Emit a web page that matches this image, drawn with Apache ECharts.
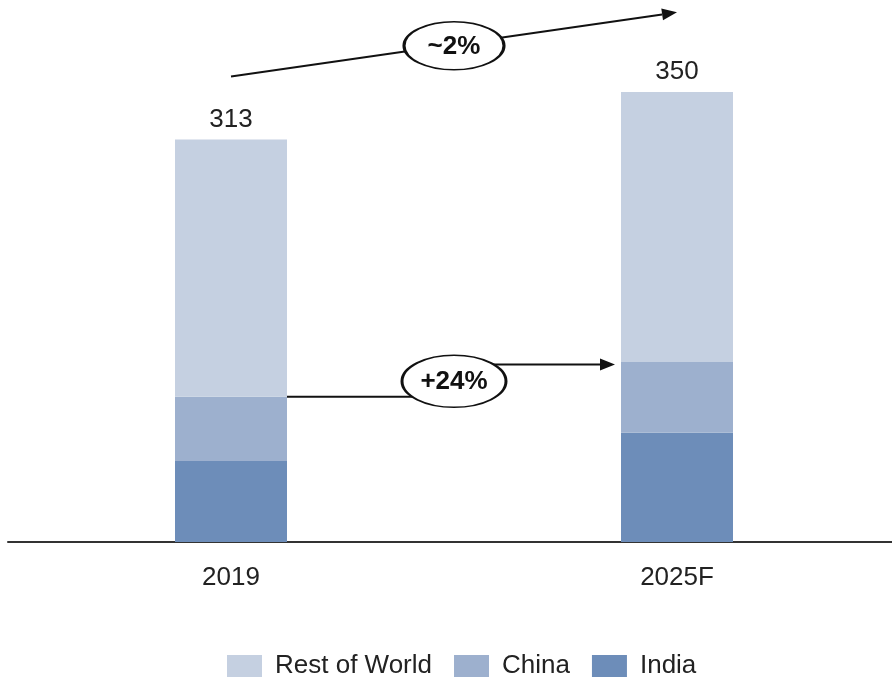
<!DOCTYPE html>
<html>
<head>
<meta charset="utf-8">
<style>
  html, body { margin: 0; padding: 0; background: #ffffff; }
  #chart { width: 892px; height: 682px; }
</style>
<script src="https://cdn.jsdelivr.net/npm/echarts@6/dist/echarts.min.js"></script>
</head>
<body>
<div id="chart"></div>
<script>
// Stacked volumes by region, 2019 vs 2025 forecast
const categories = ['2019', '2025F'];
const india = [63, 85];
const china = [50, 55];
const restOfWorld = [200, 210];
const totals = [313, 350];
const seriesNames = ['Rest of World', 'China', 'India'];
const growthLabels = ['~2%', '+24%'];

const colors = { rest: '#C5D0E1', china: '#9DB0CE', india: '#6D8DB9' };
const textColor = '#222222';
const fontFamily = '"Liberation Sans", Arial, sans-serif';

const chart = echarts.init(document.getElementById('chart'), null, { renderer: 'canvas' });

const barCommon = {
  type: 'bar',
  stack: 'total',
  barWidth: 112,
  silent: true
};

chart.setOption({
  animation: false,
  backgroundColor: '#ffffff',
  textStyle: { fontFamily: fontFamily },
  grid: { left: 8, right: -8, top: 92, bottom: 140, containLabel: false, outerBoundsMode: 'none' },
  xAxis: {
    type: 'category',
    data: categories,
    axisLine: { show: true, lineStyle: { color: '#333333', width: 2 } },
    axisTick: { show: false },
    axisLabel: { color: textColor, fontSize: 26, fontFamily: fontFamily, margin: 23 }
  },
  yAxis: {
    type: 'value',
    min: 0,
    max: 350,
    show: false,
    splitLine: { show: false }
  },
  legend: {
    data: seriesNames,
    left: 222,
    top: 648,
    itemWidth: 35,
    itemHeight: 22,
    itemGap: 22,
    icon: 'rect',
    selectedMode: false,
    textStyle: { color: textColor, fontSize: 26, fontFamily: fontFamily, padding: [0, 0, 0, 8] }
  },
  series: [
    Object.assign({}, barCommon, {
      name: 'India',
      data: india,
      itemStyle: { color: colors.india }
    }),
    Object.assign({}, barCommon, {
      name: 'China',
      data: china,
      itemStyle: { color: colors.china }
    }),
    Object.assign({}, barCommon, {
      name: 'Rest of World',
      data: restOfWorld,
      itemStyle: { color: colors.rest },
      label: {
        show: true,
        position: 'top',
        distance: 7,
        color: textColor,
        fontSize: 26,
        fontFamily: fontFamily,
        formatter: p => String(totals[p.dataIndex])
      }
    })
  ]
});

// Growth annotations: arrows with an oval badge, placed in data coordinates
function px(cat, val) {
  return chart.convertToPixel({ gridIndex: 0 }, [cat, val]);
}

function arrowHead(tip, from, len, half) {
  const dx = tip[0] - from[0], dy = tip[1] - from[1];
  const d = Math.sqrt(dx * dx + dy * dy);
  const ux = dx / d, uy = dy / d;
  const bx = tip[0] - ux * len, by = tip[1] - uy * len;
  return [tip, [bx - uy * half, by + ux * half], [bx + uy * half, by - ux * half]];
}

function badge(center, rx, ry, text) {
  return [
    {
      type: 'circle',
      x: center[0], y: center[1],
      scaleX: rx / ry, scaleY: 1,
      shape: { cx: 0, cy: 0, r: ry },
      style: { fill: '#ffffff', stroke: '#111111', lineWidth: 1.5, strokeNoScale: true },
      z: 10
    },
    {
      type: 'text',
      x: center[0], y: center[1] + 1,
      style: {
        text: text, fill: '#111111', font: 'bold 26px ' + fontFamily,
        align: 'center', verticalAlign: 'middle'
      },
      z: 11
    }
  ];
}

function drawAnnotations() {
  const c0 = px('2019', 0), c1 = px('2025F', 0);
  const half = 56;
  const els = [];

  // overall market growth: from above 2019 towards the top right
  const aStart = px('2019', 362);
  const aEnd = px('2025F', 412);
  const headA = arrowHead(aEnd, aStart, 15, 6);
  const lineEndA = [(headA[1][0] + headA[2][0]) / 2, (headA[1][1] + headA[2][1]) / 2];
  els.push({ type: 'line', shape: { x1: aStart[0], y1: aStart[1], x2: lineEndA[0], y2: lineEndA[1] },
             style: { stroke: '#111111', lineWidth: 2 }, z: 5 });
  els.push({ type: 'polygon', shape: { points: headA }, style: { fill: '#111111' }, z: 5 });
  const midA = [(c0[0] + c1[0]) / 2, px('2019', 386)[1]];
  els.push(...badge(midA, 50, 24, growthLabels[0]));

  // India + China growth: elbow from the 2019 China top to the 2025F bar
  const y0 = px('2019', india[0] + china[0])[1];
  const y1 = px('2025F', 138)[1];
  const midX = (c0[0] + c1[0]) / 2;
  els.push({ type: 'line', shape: { x1: c0[0] + half, y1: y0, x2: midX - 20, y2: y0 },
             style: { stroke: '#111111', lineWidth: 2 }, z: 5 });
  const tipB = [c1[0] - half - 6, y1];
  els.push({ type: 'line', shape: { x1: midX + 20, y1: y1, x2: tipB[0] - 13, y2: y1 },
             style: { stroke: '#111111', lineWidth: 2 }, z: 5 });
  els.push({ type: 'polygon', shape: { points: arrowHead(tipB, [midX, y1], 15, 6) },
             style: { fill: '#111111' }, z: 5 });
  const midB = [midX, px('2019', 125)[1]];
  els.push(...badge(midB, 52, 26, growthLabels[1]));

  chart.setOption({ graphic: { elements: els } });
}

drawAnnotations();
</script>
</body>
</html>
